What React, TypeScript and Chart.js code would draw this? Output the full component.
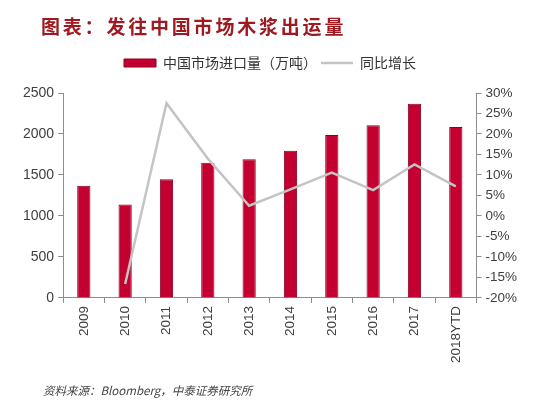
import React, { useEffect, useRef } from "react";
import { Chart, registerables } from "chart.js";

Chart.register(...registerables);

const categories = ["2009", "2010", "2011", "2012", "2013", "2014", "2015", "2016", "2017", "2018YTD"];
const importVolume = [1368, 1141, 1448, 1650, 1691, 1796, 1987, 2108, 2370, 2084];
const yoyGrowth: (number | null)[] = [null, -16.6, 27.5, 14.0, 2.5, 6.5, 10.6, 6.3, 12.6, 7.2];
const barLabel = "中国市场进口量（万吨）";
const lineLabel = "同比增长";
const titleText = "图表：发往中国市场木浆出运量";
const sourceText = "资料来源：Bloomberg，中泰证券研究所";

const AXIS_COLOR = "#8c8c8c";
const TICK_COLOR = "#404040";
const TICK_FONT = { family: "'Liberation Sans', Arial, sans-serif", size: 14 };

const legendGap = {
  id: "legendGap",
  beforeInit(chart: any) {
    const legend = chart.legend;
    if (!legend) return;
    const origFit = legend.fit;
    legend.fit = function () {
      origFit.call(this);
      this.height += 13;
    };
  },
};

export default function App() {
  const canvasRef = useRef<HTMLCanvasElement | null>(null);

  useEffect(() => {
    if (!canvasRef.current) return;
    const chart = new Chart(canvasRef.current, {
      type: "bar",
      plugins: [legendGap],
      data: {
        labels: categories,
        datasets: [
          {
            type: "bar",
            label: barLabel,
            data: importVolume,
            backgroundColor: "#C3002F",
            borderColor: "#8A0022",
            borderWidth: 1,
            yAxisID: "y",
            categoryPercentage: 0.32,
            barPercentage: 1,
            pointStyle: "rect",
            order: 2,
          } as any,
          {
            type: "line",
            label: lineLabel,
            data: yoyGrowth,
            borderColor: "#C4C4C4",
            backgroundColor: "#C4C4C4",
            borderWidth: 2.5,
            pointRadius: 0,
            tension: 0,
            yAxisID: "y1",
            pointStyle: "line",
            order: 1,
          } as any,
        ],
      },
      options: {
        animation: false,
        responsive: false,
        maintainAspectRatio: false,
        layout: { padding: { top: 52, left: 19, right: 29, bottom: 44 } },
        plugins: {
          title: { display: false },
          tooltip: { enabled: false },
          legend: {
            position: "top",
            align: "center",
            labels: {
              usePointStyle: true,
              pointStyleWidth: 32,
              boxHeight: 8,
              padding: 4,
              color: "#333333",
              font: { family: "'Noto Sans CJK SC', sans-serif", size: 14 },
              sort: (a: any, b: any) => a.datasetIndex - b.datasetIndex,
            },
          },
        },
        scales: {
          x: {
            offset: true,
            grid: {
              offset: true,
              drawOnChartArea: false,
              drawTicks: true,
              tickLength: 5,
              color: AXIS_COLOR,
            },
            border: { color: AXIS_COLOR, width: 1 },
            ticks: {
              color: TICK_COLOR,
              font: { family: "'Liberation Sans', Arial, sans-serif", size: 13.5 },
              maxRotation: 90,
              minRotation: 90,
              padding: 3,
              autoSkip: false,
            },
          },
          y: {
            position: "left",
            min: 0,
            max: 2500,
            grid: { drawOnChartArea: false, tickLength: 5, color: AXIS_COLOR },
            border: { color: AXIS_COLOR, width: 1 },
            ticks: {
              stepSize: 500,
              color: TICK_COLOR,
              font: TICK_FONT,
              padding: 4,
              callback: (v: any) => `${v}`,
            },
          },
          y1: {
            position: "right",
            min: -20,
            max: 30,
            grid: { drawOnChartArea: false, tickLength: 5, color: AXIS_COLOR },
            border: { color: AXIS_COLOR, width: 1 },
            ticks: {
              stepSize: 5,
              color: TICK_COLOR,
              font: { family: "'Liberation Sans', Arial, sans-serif", size: 13.5 },
              padding: 4,
              callback: (v: any) => `${v}%`,
            },
          },
        },
      },
    });
    return () => chart.destroy();
  }, []);

  return (
    <div style={{ position: "absolute", left: 0, top: 0, width: 550, height: 410, background: "#ffffff" }}>
      <canvas ref={canvasRef} width={550} height={410} style={{ position: "absolute", left: 0, top: 0, width: 550, height: 410 }} />
      <div
        style={{
          position: "absolute",
          left: 41,
          top: 15,
          fontFamily: "'Noto Sans CJK SC', sans-serif",
          fontWeight: 700,
          fontSize: 19,
          lineHeight: "21px",
          letterSpacing: "2.8px",
          color: "#9E1A20",
          whiteSpace: "nowrap",
        }}
      >
        {titleText}
      </div>
      <div
        style={{
          position: "absolute",
          left: 43,
          top: 383,
          fontFamily: "'Noto Sans CJK SC', sans-serif",
          fontStyle: "italic",
          fontSize: 11.5,
          lineHeight: "14px",
          color: "#444444",
          whiteSpace: "nowrap",
        }}
      >
        {sourceText}
      </div>
    </div>
  );
}
